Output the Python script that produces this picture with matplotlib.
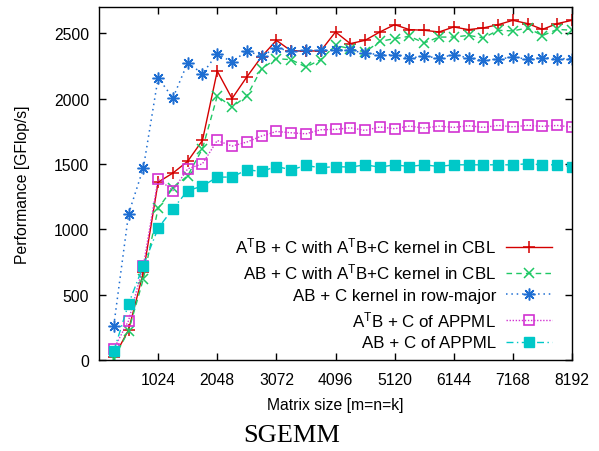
import matplotlib
matplotlib.use('Agg')
import matplotlib.pyplot as plt

plt.rcParams['font.family'] = ['Liberation Sans', 'DejaVu Sans']
plt.rcParams['mathtext.fontset'] = 'custom'
plt.rcParams['mathtext.rm'] = 'Liberation Sans'
plt.rcParams['mathtext.it'] = 'Liberation Sans'

# matrix sizes m=n=k
sizes = [256 * i for i in range(1, 33)]

# performance in GFlop/s
atb_cbl = [20, 230, 670, 1360, 1430, 1520, 1680, 2210, 2000, 2165, 2320, 2445,
           2364, 2364, 2364, 2509, 2420, 2445, 2509, 2565, 2527, 2522, 2509, 2547,
           2527, 2540, 2565, 2598, 2573, 2529, 2573, 2598]
ab_cbl = [10, 224, 620, 1160, 1315, 1410, 1616, 2019, 1935, 2019, 2228, 2305,
          2297, 2241, 2297, 2407, 2381, 2356, 2437, 2458, 2476, 2425, 2470, 2470,
          2483, 2463, 2522, 2517, 2540, 2481, 2529, 2522]
ab_rowmajor = [263, 1118, 1468, 2159, 2004, 2274, 2190, 2343, 2279, 2364, 2325, 2387,
               2362, 2368, 2368, 2374, 2368, 2348, 2335, 2335, 2310, 2323, 2310, 2335,
               2310, 2292, 2300, 2318, 2300, 2313, 2305, 2305]
atb_appml = [84, 301, 722, 1386, 1296, 1462, 1501, 1679, 1636, 1667, 1713, 1748,
             1738, 1730, 1761, 1764, 1776, 1756, 1782, 1769, 1789, 1774, 1789, 1779,
             1792, 1779, 1794, 1784, 1794, 1787, 1794, 1782]
ab_appml = [68, 429, 722, 1008, 1156, 1296, 1330, 1399, 1399, 1455, 1442, 1480,
            1455, 1488, 1470, 1480, 1475, 1493, 1475, 1493, 1480, 1493, 1480, 1493,
            1493, 1493, 1493, 1493, 1501, 1493, 1493, 1478]

xticks = [1024, 2048, 3072, 4096, 5120, 6144, 7168, 8192]
yticks = [0, 500, 1000, 1500, 2000, 2500]

fig = plt.figure(figsize=(5.99, 4.52), dpi=100)
ax = fig.add_axes([99 / 599, 91 / 452, 473 / 599, 353 / 452])

ms = 7.5
ax.plot(sizes, atb_cbl, color='#d40000', lw=1.0, ls='-', marker='+', ms=ms + 0.5, mew=1.1,
        label=r'A$^{\mathrm{T}}$B + C with A$^{\mathrm{T}}$B+C kernel in CBL')
ax.plot(sizes, ab_cbl, color='#1ec864', lw=1.0, ls=(0, (4, 3)), marker='x', ms=ms, mew=1.1,
        label=r'AB + C with A$^{\mathrm{T}}$B+C kernel in CBL')
ax.plot(sizes, ab_rowmajor, color='#1e6ed2', lw=1.1, ls=(0, (1, 2.5)), marker=(8, 2, 0), ms=ms + 1, mew=1.1,
        label='AB + C kernel in row-major')
ax.plot(sizes, atb_appml, color='#d232d2', lw=1.0, ls=(0, (1, 1.2)), marker='s', ms=ms, mew=1.2,
        mfc='none', label=r'A$^{\mathrm{T}}$B + C of APPML')
ax.plot(sizes, ab_appml, color='#00c8c8', lw=1.0, ls=(0, (5, 2.5, 1, 2.5)), marker='s', ms=ms,
        mew=1.0, label='AB + C of APPML')

ax.set_xlim(0, 8192)
ax.set_ylim(0, 2700)
ax.set_xticks(xticks)
ax.set_yticks(yticks)
ax.tick_params(direction='in', length=5, width=1, top=True, right=True,
               labelsize=11.3, colors='black')
ax.tick_params(axis='x', pad=9)
ax.tick_params(axis='y', pad=7)
for s in ax.spines.values():
    s.set_linewidth(1.0)

ax.set_xlabel('Matrix size [m=n=k]', fontsize=11.3, labelpad=7)
ax.set_ylabel('Performance [GFlop/s]', fontsize=11.3, labelpad=17)

ax.legend(loc='lower right', bbox_to_anchor=(0.958, 0.027), frameon=False,
          markerfirst=False, fontsize=12.2, handlelength=2.75, handletextpad=0.55,
          labelspacing=0.37, borderpad=0, borderaxespad=0)

fig.text(0.487, 0.01, 'SGEMM', family='Liberation Serif', fontsize=19,
         ha='center', va='bottom')

fig.savefig('out.png', dpi=100)
